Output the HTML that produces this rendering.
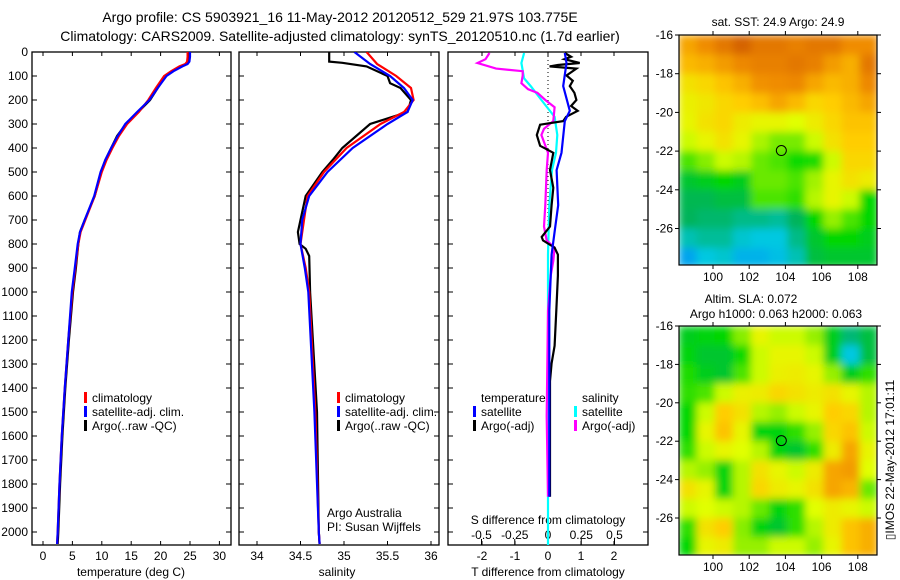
<!DOCTYPE html>
<html><head><meta charset="utf-8">
<style>
html,body{margin:0;padding:0;background:#fff;}
svg{display:block;font-family:"Liberation Sans",sans-serif;}
text{font-size:12px;fill:#000;}
</style></head>
<body>
<svg id="fig" width="900" height="580" viewBox="0 0 900 580" xmlns="http://www.w3.org/2000/svg">
<defs>
<filter id="smooth" filterUnits="userSpaceOnUse" x="670" y="20" width="220" height="550"><feGaussianBlur stdDeviation="4" edgeMode="duplicate"/></filter>
<clipPath id="clipM1"><rect x="679" y="35" width="198" height="230"/></clipPath>
<clipPath id="clipM2"><rect x="679" y="326" width="198" height="229"/></clipPath>
<clipPath id="clipP1"><rect x="32" y="52" width="199" height="493"/></clipPath>
<clipPath id="clipP2"><rect x="239" y="52" width="200" height="493"/></clipPath>
<clipPath id="clipP3"><rect x="448" y="52" width="200" height="493"/></clipPath>
</defs>
<text x="340" y="22" text-anchor="middle" style="font-size:14px">Argo profile: CS 5903921_16 11-May-2012 20120512_529 21.97S 103.775E</text>
<text x="340" y="41" text-anchor="middle" style="font-size:14px">Climatology: CARS2009. Satellite-adjusted climatology: synTS_20120510.nc (1.7d earlier)</text>
<g id="layer"></g>
</svg>
<script>
// ---------- data ----------
const tDepth = [0,20,40,50,60,80,100,150,200,250,300,350,400,450,500,600,700,750,800,900,1000,1200,1400,1600,1800,2000,2050];
const tArgo  = [24.9,24.9,24.8,24.5,23.5,22,20.8,19.5,18.2,16.2,14.1,12.6,11.6,10.6,9.9,8.8,7.1,6.3,6.0,5.6,5.1,4.4,3.8,3.3,2.9,2.6,2.5];
const tClim  = [24.6,24.6,24.5,24.2,23.2,21.8,20.6,19.2,17.9,16.3,14.3,12.9,11.8,10.8,10.0,8.8,7.2,6.4,6.0,5.5,5.0,4.3,3.7,3.2,2.8,2.5,2.4];
const tSat   = [25.0,25.0,24.9,24.6,23.7,22.2,21.0,19.5,18.1,16.0,14.0,12.7,11.6,10.6,9.8,8.7,7.1,6.3,5.9,5.4,4.9,4.3,3.7,3.2,2.8,2.5,2.4];

const sArgoDepth = [0,40,45,60,100,130,150,200,250,300,350,400,450,500,600,700,750,800,820,850,1000,1500,2000,2050];
const sArgo      = [34.83,34.83,34.98,35.26,35.5,35.53,35.65,35.77,35.73,35.3,35.14,34.98,34.87,34.75,34.56,34.5,34.47,34.49,34.56,34.6,34.61,34.69,34.71,34.72];
const sClimDepth = [0,50,100,150,200,250,300,400,500,600,700,800,900,1000,1500,2000,2050];
const sClim      = [35.26,35.38,35.6,35.77,35.8,35.69,35.42,35.03,34.77,34.58,34.54,34.5,34.56,34.6,34.67,34.71,34.72];
const sSat       = [35.12,35.3,35.53,35.69,35.79,35.73,35.5,35.1,34.81,34.6,34.52,34.5,34.55,34.59,34.66,34.71,34.72];

const dtArgoDepth = [4,20,30,46,54,60,69,98,120,142,170,200,225,245,270,288,303,346,391,420,492,566,638,727,771,785,815,844,932,1078,1224,1297,1371,1517,1853];
const dtArgo      = [0.51,0.7,0.5,0.96,0.3,0.05,0.86,0.56,0.75,0.66,0.8,0.86,0.7,0.9,0.55,0.46,-0.24,-0.34,-0.24,0.16,0.06,0.16,0.11,0.06,-0.19,-0.15,0.2,0.3,0.3,0.25,0.2,0.11,0.06,0.06,0.06];
const dtSatDepth  = [4,46,142,245,288,420,492,638,740,844,1078,1853];
const dtSat       = [0.51,0.56,0.46,0.66,0.51,0.41,0.26,0.31,0.21,0.11,0.04,0.04];
const dsArgoDepth = [4,30,46,69,80,98,130,155,170,200,230,288,320,346,420,492,638,727,785,815,870,932,1078,1517,1853];
const dsArgo      = [-0.44,-0.47,-0.53,-0.39,-0.19,-0.19,-0.2,-0.15,-0.08,-0.02,0.05,0.04,-0.03,-0.05,0,-0.01,-0.02,-0.03,-0.01,0.05,0.04,0.02,0,-0.01,0];
const dsSatDepth  = [4,46,110,142,200,270,346,420,492,638,844,2080];
const dsSat       = [-0.18,-0.2,-0.18,-0.13,-0.05,0.05,0.07,0.06,0.03,0.01,0,0];

const depthTicks = [0,100,200,300,400,500,600,700,800,900,1000,1100,1200,1300,1400,1500,1600,1700,1800,1900,2000];
const tempTicks = [0,5,10,15,20,25,30];
const salTicks = [34,34.5,35,35.5,36];
const dtTicks = [-2,-1,0,1,2];
const dsTicks = [-0.5,-0.25,0,0.25,0.5];
const dsTickLabels = ['-0.5','-0.25','0','0.25','0.5'];
const lonTicks = [100,102,104,106,108];
const latTicks = [-16,-18,-20,-22,-24,-26];

// map grids: rows from -16 to -28 (1 deg), cols from 98.1 eastward (1 deg); values 0..1 colour index
const sstGrid = [
[0.8,0.85,0.9,0.95,0.9,0.9,0.88,0.9,0.9,0.85,0.85],
[0.76,0.78,0.82,0.86,0.88,0.88,0.9,0.88,0.82,0.78,0.9],
[0.68,0.7,0.74,0.78,0.84,0.85,0.86,0.8,0.76,0.78,0.86],
[0.65,0.67,0.7,0.72,0.75,0.8,0.76,0.7,0.72,0.76,0.8],
[0.64,0.68,0.7,0.66,0.64,0.64,0.62,0.66,0.7,0.74,0.74],
[0.6,0.64,0.68,0.64,0.57,0.53,0.53,0.6,0.68,0.72,0.72],
[0.5,0.54,0.6,0.58,0.52,0.5,0.46,0.47,0.6,0.7,0.7],
[0.4,0.42,0.45,0.42,0.52,0.52,0.5,0.56,0.64,0.68,0.66],
[0.36,0.36,0.38,0.38,0.5,0.5,0.48,0.58,0.64,0.6,0.45],
[0.35,0.33,0.33,0.3,0.3,0.28,0.35,0.45,0.55,0.5,0.45],
[0.25,0.28,0.28,0.22,0.2,0.2,0.3,0.4,0.45,0.45,0.42],
[0.12,0.2,0.22,0.15,0.15,0.18,0.25,0.38,0.4,0.4,0.4]];
const slaGrid = [
[0.42,0.44,0.45,0.54,0.64,0.6,0.6,0.55,0.42,0.32,0.38],
[0.44,0.4,0.4,0.46,0.6,0.64,0.64,0.6,0.42,0.2,0.38],
[0.47,0.42,0.4,0.5,0.6,0.65,0.66,0.64,0.55,0.42,0.48],
[0.48,0.5,0.6,0.65,0.66,0.7,0.68,0.66,0.68,0.64,0.58],
[0.45,0.6,0.72,0.68,0.58,0.55,0.6,0.64,0.72,0.7,0.58],
[0.45,0.64,0.74,0.64,0.44,0.44,0.48,0.55,0.7,0.74,0.6],
[0.48,0.6,0.64,0.62,0.58,0.44,0.4,0.48,0.66,0.8,0.64],
[0.58,0.55,0.44,0.58,0.68,0.64,0.6,0.66,0.8,0.82,0.62],
[0.68,0.64,0.44,0.58,0.7,0.66,0.64,0.68,0.8,0.77,0.52],
[0.6,0.62,0.6,0.58,0.52,0.44,0.48,0.62,0.66,0.64,0.6],
[0.48,0.68,0.72,0.54,0.44,0.4,0.48,0.58,0.66,0.74,0.78],
[0.45,0.64,0.66,0.55,0.55,0.6,0.6,0.55,0.64,0.74,0.78]];
const argoLon = 103.775, argoLat = -21.97;

// ---------- scales ----------
const NS = 'http://www.w3.org/2000/svg';
const layer = document.getElementById('layer');
const yD = d => 52 + d*0.24;
const xT = t => 43 + t*5.88;
const xS = s => 257 + (s-34)*87;
const xDT = v => 548 + v*33;
const xDS = v => 548 + v*133;
const lonX = lo => 713 + (lo-100)*18.1;
const latY1 = la => 35 + (-16-la)*19.35;
const latY2 = la => 326 + (-16-la)*19.2;

function mk(tag, attrs, parent){
  const e = document.createElementNS(NS, tag);
  for (const k in attrs) e.setAttribute(k, attrs[k]);
  (parent||layer).appendChild(e);
  return e;
}
function txt(x,y,s,anchor,parent,size){
  const e = mk('text',{x:x,y:y,'text-anchor':anchor||'start'},parent);
  if(size) e.style.fontSize=size+'px';
  e.textContent = s;
  return e;
}

function colorOf(v){
  const stops=[[0,[0,110,255]],[0.2,[0,200,225]],[0.35,[0,180,90]],[0.45,[0,215,0]],[0.55,[150,240,0]],[0.62,[225,255,0]],[0.72,[255,205,0]],[0.85,[240,140,0]],[1,[200,80,0]]];
  for(let i=1;i<stops.length;i++){
    if(v<=stops[i][0]){
      const a=stops[i-1],b=stops[i],f=(v-a[0])/(b[0]-a[0]);
      const c=a[1].map((x,j)=>Math.round(x+(b[1][j]-x)*f));
      return 'rgb('+c.join(',')+')';
    }
  }
  return 'rgb(200,80,0)';
}

// ---------- profile panels ----------
function panel(name,x0,x1,clip){
  const g = mk('g',{});
  
  
  const r = mk('rect',{x:x0,y:52,width:x1-x0,height:493,fill:'none',stroke:'#000','stroke-width':1.3},g);
  
  
  depthTicks.forEach(d=>{
    mk('line',{x1:x0,x2:x0+5,y1:yD(d),y2:yD(d),stroke:'#000'},g);
    mk('line',{x1:x1-5,x2:x1,y1:yD(d),y2:yD(d),stroke:'#000'},g);
  });
  return g;
}
function series(g,depths,vals,xf,color,name,clip,w){
  const pts = depths.map((d,i)=>xf(vals[i]).toFixed(1)+','+yD(d).toFixed(1)).join(' ');
  const p = mk('polyline',{points:pts,fill:'none',stroke:color,'stroke-width':w||2.2,'clip-path':'url(#'+clip+')','stroke-linejoin':'miter'},g);
  
  
}
function legendEntry(g,x,y,color,label,name){
  const e = mk('g',{},g);
  
  
  mk('rect',{x:x,y:y-6,width:3,height:11,fill:color},e);
  txt(x+8,y+4,label,'start',e);
}

// Panel 1 temperature
const p1 = panel('temperature-panel',32,231,'clipP1');
depthTicks.forEach(d=>{ const t=txt(28,yD(d)+4,String(d),'end',p1);   });
tempTicks.forEach(t=>{
  mk('line',{x1:xT(t),x2:xT(t),y1:52,y2:56,stroke:'#000'},p1);
  mk('line',{x1:xT(t),x2:xT(t),y1:541,y2:545,stroke:'#000'},p1);
  txt(xT(t),560,String(t),'middle',p1);
});
const tl = txt(131,576,'temperature (deg C)','middle',p1);


series(p1,tDepth,tArgo,xT,'#000','temp-argo-line','clipP1');
series(p1,tDepth,tClim,xT,'#f00','temp-climatology-line','clipP1');
series(p1,tDepth,tSat,xT,'#00f','temp-satellite-line','clipP1');
legendEntry(p1,84,398,'#f00','climatology','legend-climatology');
legendEntry(p1,84,412,'#00f','satellite-adj. clim.','legend-satellite');
legendEntry(p1,84,426,'#000','Argo(..raw -QC)','legend-argo');

// Panel 2 salinity
const p2 = panel('salinity-panel',239,439,'clipP2');
salTicks.forEach(s=>{
  mk('line',{x1:xS(s),x2:xS(s),y1:52,y2:56,stroke:'#000'},p2);
  mk('line',{x1:xS(s),x2:xS(s),y1:541,y2:545,stroke:'#000'},p2);
  txt(xS(s),560,String(s),'middle',p2);
});
const sl = txt(337,576,'salinity','middle',p2);


series(p2,sArgoDepth,sArgo,xS,'#000','sal-argo-line','clipP2');
series(p2,sClimDepth,sClim,xS,'#f00','sal-climatology-line','clipP2');
series(p2,sClimDepth,sSat,xS,'#00f','sal-satellite-line','clipP2');
legendEntry(p2,337,398,'#f00','climatology','legend-climatology');
legendEntry(p2,337,412,'#00f','satellite-adj. clim.','legend-satellite');
legendEntry(p2,337,426,'#000','Argo(..raw -QC)','legend-argo');
const aa = txt(327,517,'Argo Australia','start',p2);  
const pi = txt(327,531,'PI: Susan Wijffels','start',p2);  

// Panel 3 differences
const p3 = panel('difference-panel',448,648,'clipP3');
mk('line',{x1:548,x2:548,y1:52,y2:545,stroke:'#000','stroke-dasharray':'1,3'},p3);
dtTicks.forEach(t=>{
  mk('line',{x1:xDT(t),x2:xDT(t),y1:52,y2:56,stroke:'#000'},p3);
  mk('line',{x1:xDT(t),x2:xDT(t),y1:541,y2:545,stroke:'#000'},p3);
  txt(xDT(t),560,String(t),'middle',p3);
});
dsTicks.forEach((t,i)=>{
  mk('line',{x1:xDS(t),x2:xDS(t),y1:539,y2:545,stroke:'#000'},p3);
  txt(xDS(t),539,dsTickLabels[i],'middle',p3);
});
const dtl = txt(548,576,'T difference from climatology','middle',p3);  
const dsl = txt(548,524,'S difference from climatology','middle',p3);  
series(p3,dsSatDepth,dsSat,xDS,'#0ff','sdiff-satellite-line','clipP3');
series(p3,dsArgoDepth,dsArgo,xDS,'#f0f','sdiff-argo-line','clipP3');
series(p3,dtArgoDepth,dtArgo,xDT,'#000','tdiff-argo-line','clipP3');
series(p3,dtSatDepth,dtSat,xDT,'#00f','tdiff-satellite-line','clipP3');
txt(481,402,'temperature','start',p3);
txt(582,402,'salinity','start',p3);
legendEntry(p3,473,412,'#00f','satellite','legend-t-satellite');
legendEntry(p3,473,426,'#000','Argo(-adj)','legend-t-argo');
legendEntry(p3,574,412,'#0ff','satellite','legend-s-satellite');
legendEntry(p3,574,426,'#f0f','Argo(-adj)','legend-s-argo');

// ---------- maps ----------
function map(name,grid,latY,y0,y1,clip,titleLines){
  const g = mk('g',{});
  
  
  const cells = mk('g',{'clip-path':'url(#'+clip+')'},g);
  const inner = mk('g',{filter:'url(#smooth)'},cells);
  grid.forEach((row,ri)=>{
    row.forEach((v,ci)=>{
      const lo = 98.1+ci, la = -16-ri;
      const c = mk('rect',{x:lonX(lo).toFixed(1),y:latY(la).toFixed(1),width:(lonX(lo+1)-lonX(lo)+0.5).toFixed(1),height:(latY(la-1)-latY(la)+0.5).toFixed(1),fill:colorOf(v)},inner);
      
      
    });
  });
  mk('rect',{x:679,y:y0,width:198,height:y1-y0,fill:'none',stroke:'#000','stroke-width':1.2},g);
  lonTicks.forEach(lo=>{
    mk('line',{x1:lonX(lo),x2:lonX(lo),y1:y0-4,y2:y0,stroke:'#000'},g);
    mk('line',{x1:lonX(lo),x2:lonX(lo),y1:y1,y2:y1+4,stroke:'#000'},g);
    txt(lonX(lo),y1+16,String(lo),'middle',g);
  });
  latTicks.forEach(la=>{
    mk('line',{x1:675,x2:679,y1:latY(la),y2:latY(la),stroke:'#000'},g);
    mk('line',{x1:877,x2:881,y1:latY(la),y2:latY(la),stroke:'#000'},g);
    txt(673,latY(la)+4,String(la),'end',g);
  });
  const m = mk('circle',{cx:lonX(argoLon),cy:latY(argoLat),r:5,fill:'none',stroke:'#000','stroke-width':1},g);
  
  
  titleLines.forEach(t=>{ txt(t[0],t[1],t[2],'middle',g); });
}
map('sst-map',sstGrid,latY1,35,265,'clipM1',[[778,26,'sat. SST: 24.9 Argo: 24.9']]);
map('sla-map',slaGrid,latY2,326,555,'clipM2',[[751,303,'Altim. SLA: 0.072'],[776,318,'Argo h1000: 0.063 h2000: 0.063']]);

const stamp = txt(0,0,'\u25AFIMOS 22-May-2012 17:01:11','middle');
stamp.setAttribute('transform','translate(894,460) rotate(-90)');


</script>
</body></html>
